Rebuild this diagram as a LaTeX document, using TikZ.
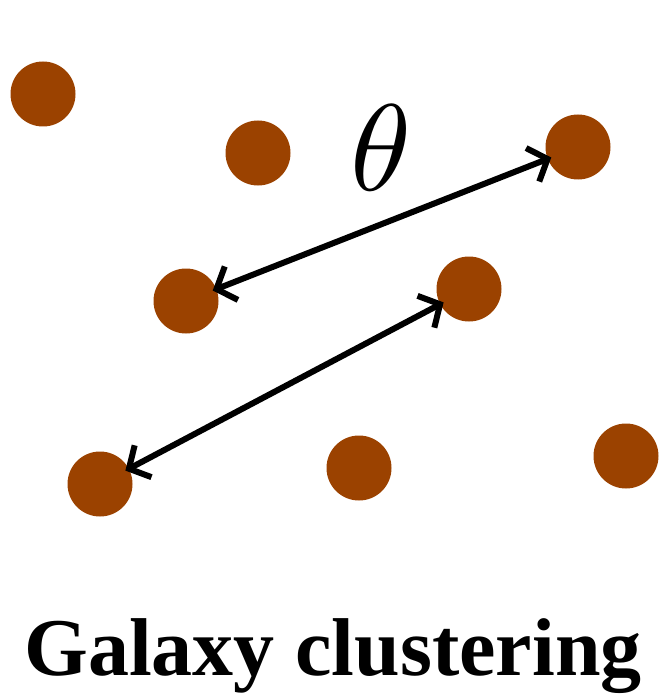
\documentclass[tikz,border=0pt]{standalone}
\usepackage{fontspec}
\newfontfamily\capfont{Liberation Serif}
\usetikzlibrary{arrows.meta}
\definecolor{galbrown}{RGB}{155,66,0}
\begin{document}
\begin{tikzpicture}[x=1pt,y=-1pt,
  gal/.style={circle,fill=galbrown,minimum size=65pt,inner sep=0pt},
  sep/.style={line width=6pt,{Straight Barb[length=16pt,width=36pt]}-{Straight Barb[length=16pt,width=36pt]},shorten <=-4pt,shorten >=-4pt}]
\useasboundingbox (0,0) rectangle (662,695);
\node[gal] (g1) at (43,94) {};
\node[gal] (g2) at (258,153) {};
\node[gal] (g3) at (578,147) {};
\node[gal] (g4) at (186,301) {};
\node[gal] (g5) at (469,289) {};
\node[gal] (g6) at (100,484) {};
\node[gal] (g7) at (359,468) {};
\node[gal] (g8) at (626,456) {};
\node[scale=12.3,inner sep=0pt] (theta) at (381,148) {$\theta$};
\draw[sep] (g4) -- (g3);
\draw[sep] (g6) -- (g5);
\node[anchor=base] (cap) at (333,675) {\capfont\bfseries\fontsize{82}{82}\selectfont Galaxy clustering};
\end{tikzpicture}
\end{document}
